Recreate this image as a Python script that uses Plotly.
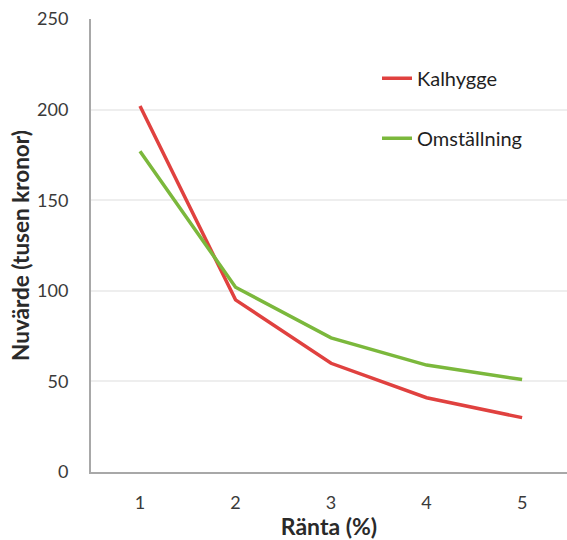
import plotly.graph_objects as go

# Net present value by interest rate for two forestry options
rates = [1, 2, 3, 4, 5]
rate_labels = ["1", "2", "3", "4", "5"]
kalhygge = [202, 95, 60, 41, 30]
omstallning = [177, 102, 74, 59, 51]
y_ticks = [0, 50, 100, 150, 200, 250]

FONT = "Lato"
fig = go.Figure()
fig.add_trace(go.Scatter(
    x=rates, y=kalhygge, mode="lines", name="Kalhygge",
    line=dict(color="#e0413f", width=3.5), legendgroup="a",
))
fig.add_trace(go.Scatter(
    x=rates, y=omstallning, mode="lines", name="Omställning",
    line=dict(color="#7bb83c", width=3.5), legendgroup="b",
))

fig.update_layout(
    width=567, height=540,
    margin=dict(l=91, r=0, t=19, b=68),
    paper_bgcolor="white", plot_bgcolor="white",
    font=dict(family=FONT, size=17, color="#3a3a3a"),
    legend=dict(
        x=(377 - 91) / 476, xanchor="left",
        y=0.912, yanchor="top",
        bgcolor="rgba(0,0,0,0)",
        font=dict(family=FONT, size=20, color="#1f1f1f"),
        tracegroupgap=31, traceorder="grouped",
    ),
    xaxis=dict(
        range=[0.487, 5.47],
        tickmode="array", tickvals=rates, ticktext=rate_labels,
        showgrid=False, zeroline=False,
        showline=True, linecolor="#a8a8a8", linewidth=2,
        ticks="", ticklabelstandoff=13,
        tickfont=dict(family=FONT, size=18, color="#3a3a3a"),
        title=dict(text="Ränta (%)", standoff=11,
                   font=dict(family=FONT, size=23, color="#2a2a2a", weight="bold")),
    ),
    yaxis=dict(
        range=[0, 250],
        tickmode="array", tickvals=y_ticks,
        showgrid=True, gridcolor="#eeeeee", gridwidth=1.5,
        zeroline=False,
        showline=True, linecolor="#a8a8a8", linewidth=2,
        ticks="", ticklabelstandoff=17,
        tickfont=dict(family=FONT, size=18, color="#3a3a3a"),
        title=dict(text="Nuvärde (tusen kronor)", standoff=1,
                   font=dict(family=FONT, size=22.5, color="#2a2a2a", weight="bold")),
    ),
)

fig.write_html("out.html")
